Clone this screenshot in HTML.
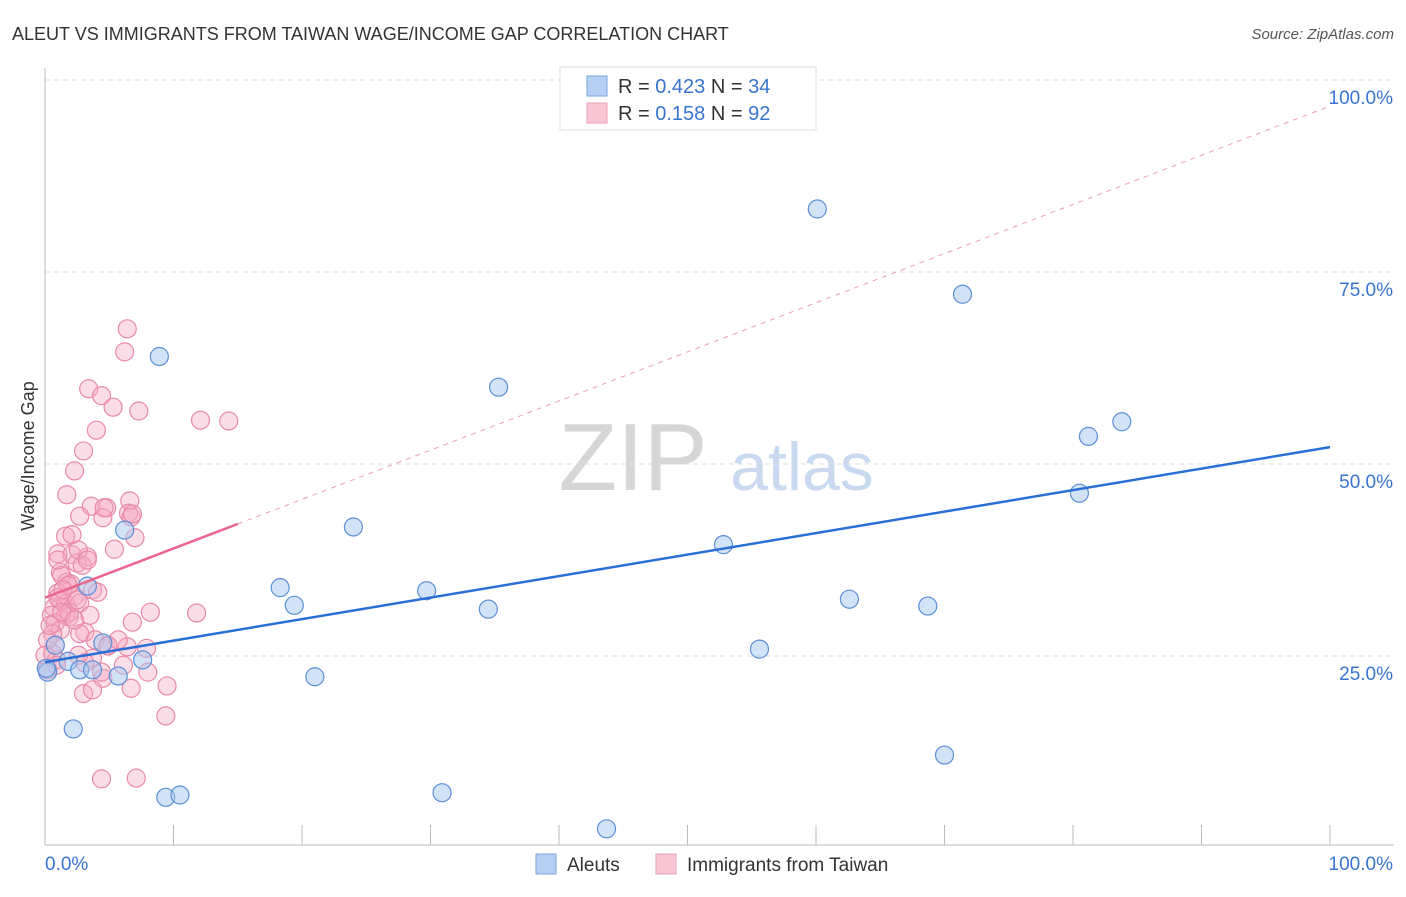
<!DOCTYPE html>
<html><head><meta charset="utf-8"><style>
body{margin:0;background:#fff;font-family:"Liberation Sans",sans-serif}
svg text{font-family:"Liberation Sans",sans-serif}
</style></head><body>
<svg id="chart" width="1406" height="892" viewBox="0 0 1406 892">
<text x="12" y="40" font-size="18" fill="#333">ALEUT VS IMMIGRANTS FROM TAIWAN WAGE/INCOME GAP CORRELATION CHART</text>
<text x="1394" y="39" font-size="15" fill="#555" font-style="italic" text-anchor="end">Source: ZipAtlas.com</text>
<g>
<text x="633" y="490" font-size="96" fill="#d6d6d6" font-family="Liberation Serif" text-anchor="middle">ZIP</text>
<text x="802" y="490" font-size="68" fill="#c8d9f0" text-anchor="middle">atlas</text>
</g>
<g id="grid"></g>
<g id="axes"></g>
<g id="marks"></g>
<g>
<rect x="560" y="67" width="256" height="63" fill="#fff" stroke="#ddd"/>
<rect x="587" y="76" width="20" height="20" fill="#b6d0f4" stroke="#7aa3dc"/>
<rect x="587" y="103" width="20" height="20" fill="#f9c6d5" stroke="#e9a0b6"/>
<text x="618" y="93" font-size="20" fill="#333">R = <tspan fill="#3a74d0">0.423</tspan>   N = <tspan fill="#3a74d0">34</tspan></text>
<text x="618" y="120" font-size="20" fill="#333">R =  <tspan fill="#3a74d0">0.158</tspan>   N = <tspan fill="#3a74d0">92</tspan></text>
</g>
<g>
<rect x="536" y="854" width="20" height="20" fill="#b6d0f4" stroke="#7aa3dc"/>
<text x="567" y="871" font-size="19" fill="#333">Aleuts</text>
<rect x="656" y="854" width="20" height="20" fill="#f9c6d5" stroke="#e9a0b6"/>
<text x="687" y="871" font-size="19" fill="#333">Immigrants from Taiwan</text>
</g>
<text transform="translate(34,456) rotate(-90)" font-size="18" fill="#333" text-anchor="middle">Wage/Income Gap</text>
</svg>
<script>
const yTicks=[25,50,75,100];
const yTickLabels=["25.0%","50.0%","75.0%","100.0%"];
const xTickLabels=["0.0%","100.0%"];
const aleutX=[60.1,71.4,8.9,35.3,81.2,83.8,80.5,6.2,24.0,52.8,3.3,18.3,19.4,29.7,34.5,62.6,68.7,4.5,55.6,7.6,1.8,2.7,3.7,5.7,21.0,0.2,0.8,2.2,70.0,9.4,10.5,30.9,43.7,0.1];
const aleutY=[83.2,72.1,64.0,60.0,53.6,55.5,46.2,41.4,41.8,39.5,34.1,33.9,31.6,33.5,31.1,32.4,31.5,26.7,25.9,24.5,24.3,23.2,23.2,22.4,22.3,22.9,26.4,15.5,12.1,6.6,6.9,7.2,2.5,23.4];
const taiwanX=[6.4,6.2,3.4,4.4,5.3,7.3,4.0,14.3,12.1,3.0,2.3,1.7,3.6,6.6,4.8,4.5,6.5,2.7,6.7,1.6,2.1,7.0,5.4,1.0,2.1,3.3,2.5,1.2,2.9,1.7,2.0,3.7,1.0,2.3,1.2,0.7,1.6,2.7,0.5,1.6,1.9,0.8,1.2,0.6,3.1,3.9,8.2,11.8,6.8,6.4,4.9,7.9,0.6,0.9,3.7,2.6,6.1,8.0,4.5,9.5,6.7,3.0,3.7,9.4,4.4,7.1,0.2,1.0,1.9,2.5,1.3,0.4,0.8,1.3,2.6,4.1,3.3,2.7,4.9,3.1,6.8,0.9,0.2,1.8,2.3,1.4,3.5,1.0,5.7,4.4,0.0,4.6];
const taiwanY=[67.6,64.6,59.8,58.9,57.4,56.9,54.4,55.6,55.7,51.7,49.1,46.0,44.5,45.2,44.3,43.0,43.6,43.2,43.1,40.6,40.8,40.4,38.9,38.3,38.2,37.9,37.1,35.9,36.8,34.6,34.4,33.6,33.2,32.8,32.3,31.3,31.8,31.9,30.3,30.3,30.1,29.3,28.4,27.9,28.1,27.1,30.7,30.6,29.4,26.2,26.4,26.0,25.3,24.5,24.7,25.1,23.8,22.9,22.1,21.1,20.8,20.1,20.6,17.2,9.0,9.1,27.1,32.6,30.7,32.3,30.7,29.0,26.4,35.5,38.8,33.3,37.5,27.9,26.3,24.1,43.5,23.8,23.2,34.2,29.7,33.6,30.3,37.5,27.1,22.9,25.1,44.3];
const aleutTrend=[24.2,52.2];
const taiwanTrend=[32.6,96.6];
const taiwanSolidEnd=15;
const NS="http://www.w3.org/2000/svg";
const X=v=>45+v*12.85, Y=v=>848-v*7.68;
function mk(t,a,p){const e=document.createElementNS(NS,t);for(const k in a)e.setAttribute(k,a[k]);p.appendChild(e);return e;}
const grid=document.getElementById('grid'),axes=document.getElementById('axes'),marks=document.getElementById('marks');
yTicks.forEach((t,i)=>{
 const l=mk('line',{x1:45,x2:1394,y1:Y(t),y2:Y(t),stroke:'#ddd','stroke-dasharray':'5,4'},grid);
 
 
 const tx=mk('text',{x:1393,y:Y(t)+24,'font-size':19,fill:'#3a74d0','text-anchor':'end'},axes);
 tx.textContent=yTickLabels[i];
 
 
});
const ax=mk('line',{x1:45,x2:1394,y1:845,y2:845,stroke:'#bbb'},axes);


const ay=mk('line',{x1:45,x2:45,y1:68,y2:845,stroke:'#bbb'},axes);


for(let i=0;i<=10;i++){const t=mk('line',{x1:X(i*10),x2:X(i*10),y1:825,y2:845,stroke:'#bbb'},axes);
 
 }
const xl0=mk('text',{x:45,y:870,'font-size':19,fill:'#3a74d0'},axes);xl0.textContent=xTickLabels[0];


const xl1=mk('text',{x:1393,y:870,'font-size':19,fill:'#3a74d0','text-anchor':'end'},axes);xl1.textContent=xTickLabels[1];


taiwanX.forEach((x,i)=>{const c=mk('circle',{cx:X(x),cy:Y(taiwanY[i]),r:9,fill:'rgba(244,170,195,0.4)',stroke:'#e98aa8','stroke-width':1.2},marks);
 
 });
aleutX.forEach((x,i)=>{const c=mk('circle',{cx:X(x),cy:Y(aleutY[i]),r:9,fill:'rgba(168,200,240,0.5)',stroke:'#5b8fd6','stroke-width':1.2},marks);
 
 });
const tAt=v=>taiwanTrend[0]+(taiwanTrend[1]-taiwanTrend[0])*v/100;
const td=mk('line',{x1:X(taiwanSolidEnd),y1:Y(tAt(taiwanSolidEnd)),x2:X(100),y2:Y(tAt(100)),stroke:'#eaa0b8','stroke-dasharray':'5,5','stroke-width':1},marks);


const ts=mk('line',{x1:X(0),y1:Y(tAt(0)),x2:X(taiwanSolidEnd),y2:Y(tAt(taiwanSolidEnd)),stroke:'#e8668f','stroke-width':2.5},marks);


const at=mk('line',{x1:X(0),y1:Y(aleutTrend[0]),x2:X(100),y2:Y(aleutTrend[1]),stroke:'#2a6fd6','stroke-width':2.5},marks);


</script>
</body></html>
